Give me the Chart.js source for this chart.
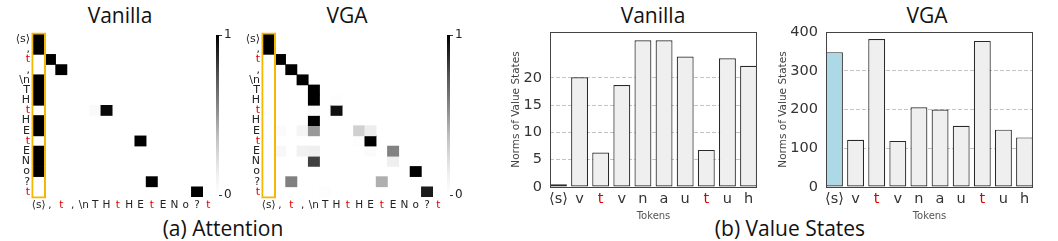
<!DOCTYPE html>
<html>
<head>
<meta charset="utf-8">
<script src="https://cdn.jsdelivr.net/npm/chart.js@4.4.1/dist/chart.umd.min.js"></script>
<style>
  html, body { margin: 0; padding: 0; background: #fff; }
  body { width: 1058px; height: 241px; position: relative; overflow: hidden; font-family: 'Open Sans', sans-serif; }
  canvas { position: absolute; }
  .lbl { position: absolute; font-size: 21px; line-height: 21px; color: #111; white-space: nowrap; transform: translateX(-50%); }
</style>
</head>
<body>
<div class="lbl" style="left:120px;top:5px">Vanilla</div>
<div class="lbl" style="left:347px;top:5px">VGA</div>
<div class="lbl" style="left:653px;top:5px">Vanilla</div>
<div class="lbl" style="left:927px;top:5px">VGA</div>
<div class="lbl" style="left:223px;top:218px">(a) Attention</div>
<div class="lbl" style="left:790px;top:218px">(b) Value States</div>

<canvas id="hmVanilla" width="215" height="215" style="left:0;top:0"></canvas>
<canvas id="cbVanilla" width="34" height="210" style="left:206px;top:0"></canvas>
<canvas id="hmVga" width="215" height="215" style="left:230px;top:0"></canvas>
<canvas id="cbVga" width="34" height="210" style="left:437px;top:0"></canvas>
<canvas id="barVanilla" width="260" height="225" style="left:500px;top:0"></canvas>
<canvas id="barVga" width="266" height="225" style="left:770px;top:0"></canvas>

<script>
// tokens of the attention maps (rows = queries, cols = keys)
const tokens = ['⟨s⟩', ',', 't', ',', '\\n', 'T', 'H', 't', 'H', 'E', 't', 'E', 'N', 'o', '?', 't'];

// attention cells: [row, col, weight], everything else is 0
const vanillaAttn = [
  [0, 0, 1], [1, 0, 1], [2, 1, 1], [3, 2, 1], [4, 0, 1], [5, 0, 1], [6, 0, 1],
  [7, 5, 0.04], [7, 6, 0.97], [8, 0, 1], [9, 0, 1], [10, 9, 1],
  [11, 0, 1], [12, 0, 1], [13, 0, 1], [14, 10, 1], [15, 14, 1]
];
const vgaAttn = [
  [0, 0, 1], [1, 0, 1], [2, 1, 1], [3, 2, 1], [4, 3, 1], [5, 4, 1], [6, 4, 1], [6, 6, 0.02],
  [7, 4, 0.04], [7, 6, 0.95], [8, 4, 1],
  [9, 1, 0.03], [9, 3, 0.08], [9, 4, 0.49], [9, 8, 0.29], [9, 9, 0.14],
  [10, 8, 0.02], [10, 9, 1],
  [11, 1, 0.07], [11, 3, 0.12], [11, 4, 0.13], [11, 9, 0.03], [11, 11, 0.57],
  [12, 4, 0.8], [12, 11, 0.13],
  [13, 13, 1],
  [14, 2, 0.58], [14, 10, 0.42],
  [15, 5, 0.02], [15, 14, 0.91]
];
const colorbarTicks = [0, 1];

// value-state norms
const barTokens = ['⟨s⟩', 'v', 't', 'v', 'n', 'a', 'u', 't', 'u', 'h'];
const vanillaNorms = [0.5, 20.1, 6.3, 18.7, 26.9, 26.9, 23.9, 6.8, 23.6, 22.2];
const vgaNorms = [348, 122, 382, 119, 206, 200, 158, 377, 148, 128];
const vanillaTicks = [0, 5, 10, 15, 20];
const vgaTicks = [0, 100, 200, 300, 400];

const RED = '#e00000';
const tokColor = t => t === 't' ? RED : '#222';

// matplotlib "Greys"-like ramp
function greys(v) {
  const stops = [255, 240, 217, 189, 150, 115, 82, 37, 0];
  const p = Math.max(0, Math.min(1, v)) * 8;
  const i = Math.min(7, Math.floor(p));
  const g = Math.round(stops[i] + (stops[i + 1] - stops[i]) * (p - i));
  return `rgb(${g},${g},${g})`;
}

const frame = {
  id: 'frame',
  afterDraw(chart) {
    const {ctx, chartArea: a} = chart;
    ctx.save();
    ctx.strokeStyle = '#444';
    ctx.lineWidth = 1;
    ctx.strokeRect(Math.round(a.left) + 0.5, Math.round(a.top) + 0.5,
      Math.round(a.right - a.left) - 1, Math.round(a.bottom - a.top));
    ctx.restore();
  }
};

function heatmap(id, cells) {
  const rows = tokens.map((_, r) => {
    const data = tokens.map(() => null);
    const colors = tokens.map(() => '#fff');
    cells.filter(c => c[0] === r).forEach(([, c, v]) => {
      data[c] = [r - 0.5, r + 0.5];
      colors[c] = greys(v);
    });
    return { data, backgroundColor: colors, borderWidth: 0, grouped: false,
      barPercentage: 1, categoryPercentage: 1 };
  });
  // yellow box around the first key column (a little wider than the column)
  const box = {
    data: tokens.map((_, i) => i === 0 ? [-0.65, tokens.length - 0.35] : null),
    backgroundColor: 'rgba(0,0,0,0)', borderColor: '#f5b800', borderWidth: 2,
    borderSkipped: false, grouped: false, barPercentage: 1.3, categoryPercentage: 1,
    inflateAmount: 0, clip: false
  };
  new Chart(document.getElementById(id), {
    type: 'bar',
    data: { labels: tokens, datasets: [box, ...rows] },
    options: {
      responsive: false, animation: false, events: [],
      layout: { padding: { top: 34, right: 1 } },
      plugins: { legend: { display: false }, tooltip: { enabled: false } },
      scales: {
        x: {
          grid: { display: false, drawTicks: false }, border: { display: false },
          afterFit: s => { s.height = 18; },
          ticks: { autoSkip: false, maxRotation: 0, minRotation: 0, padding: 2,
            font: { family: 'DejaVu Sans', size: 10.5 }, color: c => tokColor(tokens[c.index]) }
        },
        y: {
          reverse: true, min: -0.5, max: tokens.length - 0.5,
          grid: { display: false, drawTicks: false }, border: { display: false },
          afterBuildTicks: s => { s.ticks = tokens.map((_, i) => ({ value: i })); },
          afterFit: s => { s.width = 33; },
          ticks: { autoSkip: false, padding: 3, font: { family: 'DejaVu Sans', size: 11 },
            color: c => tokColor(tokens[c.index]), callback: v => tokens[v] }
        }
      }
    }
  });
}

function colorbar(id) {
  new Chart(document.getElementById(id), {
    type: 'bar',
    data: {
      labels: [''],
      datasets: [{
        data: [1], borderWidth: 0, barPercentage: 1, categoryPercentage: 1,
        backgroundColor: ctx => {
          const {chart} = ctx;
          const a = chart.chartArea;
          if (!a) return '#888';
          const g = chart.ctx.createLinearGradient(0, a.bottom, 0, a.top);
          for (let i = 0; i <= 8; i++) g.addColorStop(i / 8, greys(i / 8));
          return g;
        }
      }]
    },
    options: {
      responsive: false, animation: false, events: [],
      layout: { padding: { left: 10, top: 35, bottom: 15 } },
      plugins: { legend: { display: false }, tooltip: { enabled: false } },
      scales: {
        x: { display: false },
        y: {
          position: 'right', min: 0, max: 1,
          afterBuildTicks: s => { s.ticks = colorbarTicks.map(v => ({ value: v })); },
          afterFit: s => { s.width = 21; },
          grid: { drawOnChartArea: false, drawTicks: true, tickLength: 3, tickColor: '#333' },
          border: { display: false },
          ticks: { padding: 2, color: '#222', font: { family: 'DejaVu Sans', size: 12 } }
        }
      }
    }
  });
}

function normChart(id, values, ticks, yMax, axisW, titlePad) {
  new Chart(document.getElementById(id), {
    type: 'bar',
    data: {
      datasets: [{
        data: values.map((v, i) => ({ x: i, y: v })),
        backgroundColor: values.map((_, i) => i === 0 ? '#add8e6' : '#efefef'),
        borderColor: '#2a2a2a', borderWidth: 1.2, borderSkipped: false,
        barPercentage: 0.8, categoryPercentage: 1
      }]
    },
    options: {
      responsive: false, animation: false, events: [],
      layout: { padding: { top: 32, right: 3 } },
      plugins: { legend: { display: false }, tooltip: { enabled: false } },
      scales: {
        x: {
          type: 'linear', offset: false, min: -0.4, max: values.length - 0.6,
          grid: { display: false, drawTicks: false }, border: { display: false },
          afterBuildTicks: s => { s.ticks = barTokens.map((_, i) => ({ value: i })); },
          afterFit: s => { s.height = 38; },
          ticks: { autoSkip: false, maxRotation: 0, padding: 4,
            font: { family: 'DejaVu Sans', size: 14.5 },
            color: c => barTokens[c.index] === 't' ? RED : '#333',
            callback: v => barTokens[v] },
          title: { display: true, text: 'Tokens', color: '#555',
            font: { family: 'DejaVu Sans', size: 10 }, padding: { top: 0, bottom: 3 } }
        },
        y: {
          min: 0, max: yMax,
          afterBuildTicks: s => { s.ticks = ticks.map(v => ({ value: v })); },
          afterFit: s => { s.width = axisW; },
          grid: { drawTicks: false, lineWidth: 1,
            color: c => c.tick && c.tick.value === 0 ? 'rgba(0,0,0,0)' : '#c4c4c4' },
          border: { display: false, dash: [4, 2] },
          ticks: { padding: 8, color: '#333', font: { family: 'DejaVu Sans', size: 14.5 } },
          title: { display: true, text: 'Norms of Value States', color: '#444',
            font: { family: 'DejaVu Sans', size: 10.5 }, padding: { top: titlePad, bottom: 0 } }
        }
      }
    },
    plugins: [frame]
  });
}

heatmap('hmVanilla', vanillaAttn);
heatmap('hmVga', vgaAttn);
colorbar('cbVanilla');
colorbar('cbVga');
normChart('barVanilla', vanillaNorms, vanillaTicks, 28.4, 50, 10);
normChart('barVga', vgaNorms, vgaTicks, 400, 56, 7);
</script>
</body>
</html>
